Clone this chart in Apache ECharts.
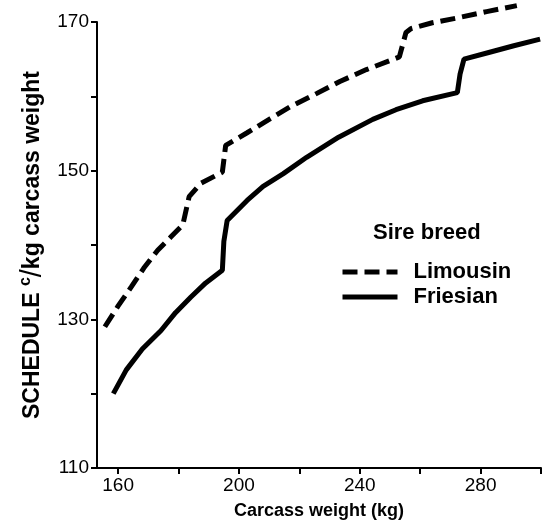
<!DOCTYPE html>
<html>
<head>
<meta charset="utf-8">
<script src="https://cdn.jsdelivr.net/npm/echarts@6/dist/echarts.min.js"></script>
<style>html,body{margin:0;padding:0;background:#fff}#c{width:547px;height:526px}</style>
</head>
<body>
<div id="c"></div>
<script>
// Data
var seriesNames = ['Limousin', 'Friesian'];
var limX = [155.6, 160, 164.4, 168.5, 173.1, 177.5, 181.4, 183.5, 187.4, 194.5, 195.6, 202.7, 210.4, 217, 225.8, 233.4, 242.2, 253.1, 255.3, 256.9, 264, 271.7, 282, 292.0];
var limY = [129.0, 131.8, 134.4, 136.9, 139.3, 141.1, 142.7, 146.5, 148.3, 149.8, 153.4, 155.1, 157.0, 158.6, 160.4, 162.0, 163.6, 165.3, 168.6, 169.1, 169.9, 170.5, 171.4, 172.2];
var frX = [158.4, 162.7, 168, 174.2, 179, 184.1, 189, 194.5, 195.0, 196.1, 202.7, 208, 214.7, 222.4, 233, 244.3, 252, 260.8, 272.3, 273.2, 274.5, 282.7, 291, 299.7];
var frY = [120.0, 123.2, 126.0, 128.5, 130.9, 133.0, 134.9, 136.6, 140.5, 143.3, 146.0, 147.9, 149.6, 151.8, 154.5, 156.9, 158.2, 159.4, 160.5, 163.0, 165.0, 165.9, 166.8, 167.7];
var xTicks = [160, 180, 200, 220, 240, 260, 280, 300];
var xLabels = [160, 200, 240, 280];
var yLabels = [110, 130, 150, 170];

function pairs(xs, ys) { return xs.map(function (x, i) { return [x, ys[i]]; }); }

var chart = echarts.init(document.getElementById('c'));
var font = 'Liberation Sans, Arial, Helvetica, sans-serif';
chart.setOption({
  animation: false,
  backgroundColor: '#fff',
  title: {
    text: 'Sire breed',
    left: 373, top: 222, padding: 0,
    textStyle: { fontFamily: font, fontSize: 22, lineHeight: 22, fontWeight: 'bold', color: '#000' }
  },
  legend: {
    orient: 'vertical',
    left: 340, top: 261, padding: 0,
    itemWidth: 55, itemHeight: 14, itemGap: 3,
    data: seriesNames,
    itemStyle: { opacity: 0 },
    lineStyle: { width: 5 },
    textStyle: { fontFamily: font, fontSize: 22, lineHeight: 22, fontWeight: 'bold', color: '#000', padding: [0, 0, 0, 11] }
  },
  grid: { left: 97, right: 6, top: 22, bottom: 58, outerBoundsMode: 'none' },
  xAxis: {
    type: 'value', min: 153, max: 300,
    splitLine: { show: false },
    axisLine: { lineStyle: { color: '#000', width: 2 } },
    axisTick: { length: 6, lineStyle: { color: '#000', width: 2 }, customValues: xTicks },
    axisLabel: { customValues: xLabels, margin: 8, fontFamily: font, fontSize: 19, color: '#000' },
    name: 'Carcass weight (kg)', nameLocation: 'middle', nameGap: 34, nameMoveOverlap: false,
    nameTextStyle: { fontFamily: font, fontSize: 18, fontWeight: 'bold', color: '#000' }
  },
  yAxis: {
    type: 'value', min: 110, max: 170, interval: 10,
    splitLine: { show: false },
    axisLine: { lineStyle: { color: '#000', width: 2 } },
    axisTick: { length: 6, lineStyle: { color: '#000', width: 2 } },
    axisLabel: {
      margin: 8, fontFamily: font, fontSize: 19, color: '#000',
      formatter: function (v) { return yLabels.indexOf(v) >= 0 ? String(v) : ''; }
    },
    name: 'SCHEDULE {sup|c}{sl|/}kg carcass weight', nameLocation: 'middle', nameRotate: 90, nameGap: 50, nameMoveOverlap: false,
    nameTextStyle: {
      fontFamily: font, fontSize: 23, fontWeight: 'bold', color: '#000',
      rich: {
        sup: { fontFamily: font, fontSize: 16, fontWeight: 'bold', color: '#000', verticalAlign: 'top', padding: [0, 0, 10, 0] },
        sl: { fontFamily: font, fontSize: 29, fontWeight: 'normal', color: '#000' }
      }
    }
  },
  series: [
    {
      name: seriesNames[0], type: 'line', data: pairs(limX, limY), clip: false,
      symbol: 'none', smooth: false, color: '#000',
      lineStyle: { color: '#000', width: 5, type: [15, 7] }
    },
    {
      name: seriesNames[1], type: 'line', data: pairs(frX, frY), clip: false,
      symbol: 'none', smooth: false, color: '#000',
      lineStyle: { color: '#000', width: 5, type: 'solid' }
    }
  ]
});
</script>
</body>
</html>
